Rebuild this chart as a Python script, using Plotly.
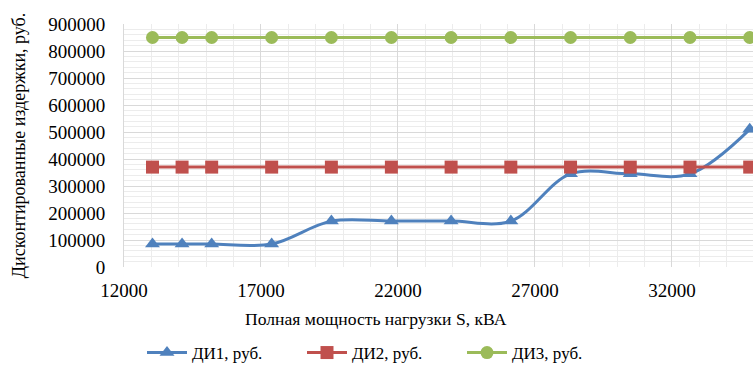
import plotly.graph_objects as go

# Полная мощность нагрузки S, кВА
load_kva = [13040, 14120, 15200, 17390, 19570, 21760, 23940, 26120, 28300, 30480, 32660, 34840]

# Дисконтированные издержки по вариантам, руб.
di1 = [85000, 85000, 85000, 85000, 170000, 170000, 170000, 170000, 345000, 345000, 345000, 510000]
di2 = [370000] * 12
di3 = [850000] * 12

series_names = ["ДИ1, руб.", "ДИ2, руб.", "ДИ3, руб."]
x_ticks = [12000, 17000, 22000, 27000, 32000]
y_ticks = [0, 100000, 200000, 300000, 400000, 500000, 600000, 700000, 800000, 900000]

FONT = "Liberation Serif, Times New Roman, serif"
PLOT_H = 368 - 24 - 101
PLOT_W = 753 - 124

fig = go.Figure()
fig.add_trace(go.Scatter(
    x=load_kva, y=di1, name=series_names[0], mode="lines+markers",
    line=dict(color="#4f81bd", width=3, shape="spline", smoothing=1.0),
    marker=dict(symbol="triangle-up", size=13, color="#4f81bd"),
))
fig.add_trace(go.Scatter(
    x=load_kva, y=di2, name=series_names[1], mode="lines+markers",
    line=dict(color="#c0504d", width=3),
    marker=dict(symbol="square", size=13, color="#c0504d"),
))
fig.add_trace(go.Scatter(
    x=load_kva, y=di3, name=series_names[2], mode="lines+markers",
    line=dict(color="#9bbb59", width=3),
    marker=dict(symbol="circle", size=13, color="#9bbb59"),
))

fig.update_layout(
    width=753, height=368,
    margin=dict(l=124, r=0, t=24, b=101, autoexpand=False),
    paper_bgcolor="white", plot_bgcolor="white",
    font=dict(family=FONT, size=19, color="#000000"),
    showlegend=True,
    legend=dict(
        orientation="h", x=(142 - 124) / PLOT_W, xanchor="left",
        y=-(353 - 267) / PLOT_H, yanchor="middle",
        font=dict(family=FONT, size=17, color="#000000"),
        entrywidth=105, entrywidthmode="pixels", itemwidth=40,
        bgcolor="rgba(0,0,0,0)",
    ),
    annotations=[
        dict(text="Полная мощность нагрузки S, кВА", xref="paper", yref="paper",
             x=(376 - 124) / PLOT_W, y=-(319 - 267) / PLOT_H,
             xanchor="center", yanchor="middle",
             showarrow=False, font=dict(family=FONT, size=17.6, color="#000000")),
    ],
)

fig.update_xaxes(
    range=[12000, 34960],
    tickvals=x_ticks, ticktext=[str(v) for v in x_ticks],
    showgrid=True, gridcolor="#d9d9d9", gridwidth=1,
    minor=dict(dtick=1000, tick0=12000, showgrid=True, gridcolor="#ececec", gridwidth=1),
    showline=False, zeroline=False, ticks="", ticklabelstandoff=10,
    tickfont=dict(family=FONT, size=19, color="#000000"),
)
fig.update_yaxes(
    range=[0, 900000],
    tickvals=y_ticks, ticktext=[str(v) for v in y_ticks],
    showgrid=True, gridcolor="#d9d9d9", gridwidth=1,
    minor=dict(dtick=20000, tick0=0, showgrid=True, gridcolor="#ececec", gridwidth=1),
    showline=True, linecolor="#d9d9d9", linewidth=1, zeroline=False, ticks="",
    ticklabelstandoff=14,
    tickfont=dict(family=FONT, size=19, color="#000000"),
    title=dict(text="Дисконтированные издержки, руб.", standoff=17,
               font=dict(family=FONT, size=18, color="#000000")),
)

fig.write_html("out.html")
